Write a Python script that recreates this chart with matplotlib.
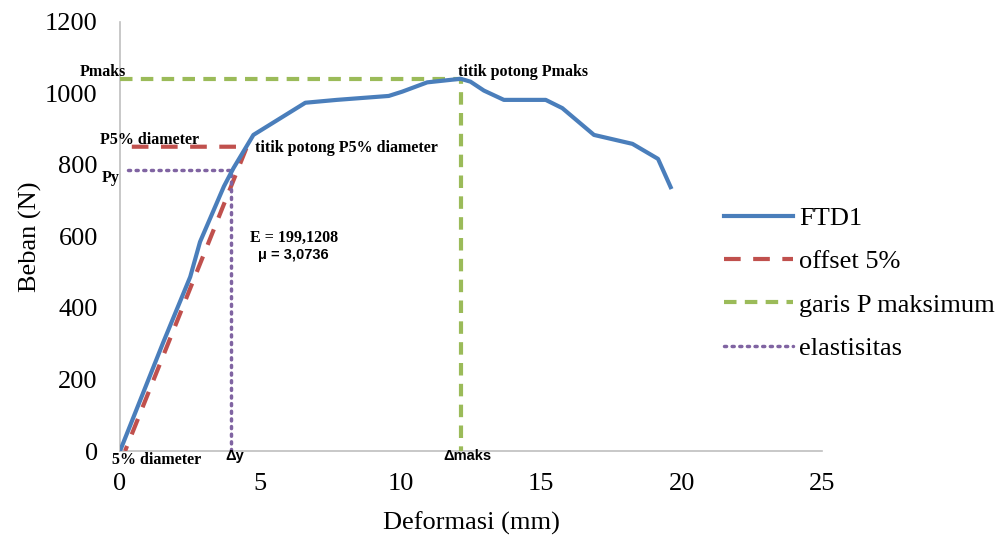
import matplotlib
matplotlib.use("Agg")
import matplotlib.pyplot as plt

# FTD1 load-deformation data
ftd1_x = [0, 1.53, 2.5, 2.85, 3.7, 4.04, 4.75, 6.6, 7.72, 9.57, 10.05, 10.94, 12.13,
          12.48, 12.96, 13.67, 15.16, 15.75, 16.88, 18.25, 19.16, 19.61]
ftd1_y = [0, 302, 487, 585, 740, 791, 884, 974, 982, 993, 1005, 1031, 1041,
          1033, 1008, 982, 982, 959, 884, 859, 817, 738]

offset_x = [0.42, 4.52, 0.18]
offset_y = [851, 851, 0]

pmax_x = [0, 12.13, 12.13]
pmax_y = [1041, 1041, 0]

elast_x = [0.3, 3.97, 3.97]
elast_y = [786, 786, 0]

xticks = [0, 5, 10, 15, 20, 25]
yticks = [0, 200, 400, 600, 800, 1000, 1200]

serif = "Liberation Serif"
fig = plt.figure(figsize=(10.06, 5.35), dpi=100)
ax = fig.add_axes([0.1193, 0.157, 0.6978, 0.802])

l1, = ax.plot(ftd1_x, ftd1_y, color="#4A7EBB", lw=3, label="FTD1", zorder=4)
l2, = ax.plot(offset_x, offset_y, color="#C0504D", lw=3, ls=(0, (4, 3)), label="offset 5%", zorder=3)
l3, = ax.plot(pmax_x, pmax_y, color="#9BBB59", lw=3, ls=(0, (3, 2)), label="garis P maksimum", zorder=3)
l4, = ax.plot(elast_x, elast_y, color="#8064A2", lw=2.5, ls=(0, (0.6, 1.6)), label="elastisitas",
              dash_capstyle="round", zorder=3)

ax.set_xlim(0, 25)
ax.set_ylim(0, 1200)
ax.set_xticks(xticks)
ax.set_yticks(yticks)
ax.tick_params(length=0, labelsize=19)
ax.tick_params(axis="x", pad=16)
ax.tick_params(axis="y", pad=16)
for lab in ax.get_xticklabels() + ax.get_yticklabels():
    lab.set_fontfamily(serif)
for s in ["top", "right"]:
    ax.spines[s].set_visible(False)
for s in ["left", "bottom"]:
    ax.spines[s].set_color("#BFBFBF")
    ax.spines[s].set_linewidth(1.2)

ax.set_xlabel("Deformasi (mm)", fontsize=19, fontfamily=serif, labelpad=12)
ax.set_ylabel("Beban (N)", fontsize=19, fontfamily=serif, labelpad=2)

bs = dict(fontsize=11.5, fontfamily=serif, fontweight="bold", va="center", ha="left")
ax.text(-1.43, 1060, "Pmaks", **bs)
ax.text(-0.71, 870, "P5% diameter", **bs)
ax.text(-0.64, 764, "Py", **bs)
ax.text(4.81, 848, "titik potong P5% diameter", **bs)
ax.text(12.05, 1060, "titik potong Pmaks", **bs)
ax.text(-0.29, -25, "5% diameter", **bs)
ax.text(6.2, 596, "E = 199,1208", fontsize=11.5, fontfamily=serif, fontweight="bold",
        ha="center", va="center")
sb = dict(fontsize=10.5, fontfamily="Liberation Sans", fontweight="bold", va="center", ha="left")
ax.text(4.9, 548, "μ = 3,0736", **sb)
ax.text(3.74, -14, "Δy", **sb)
ax.text(11.52, -14, "Δmaks", **sb)

fig.legend(handles=[l1, l2, l3, l4], loc="upper left", bbox_to_anchor=(0.696, 0.658),
           frameon=False, prop={"family": serif, "size": 19}, handlelength=2.6,
           labelspacing=0.75, handletextpad=0.25)

fig.savefig("out.png", dpi=100)
